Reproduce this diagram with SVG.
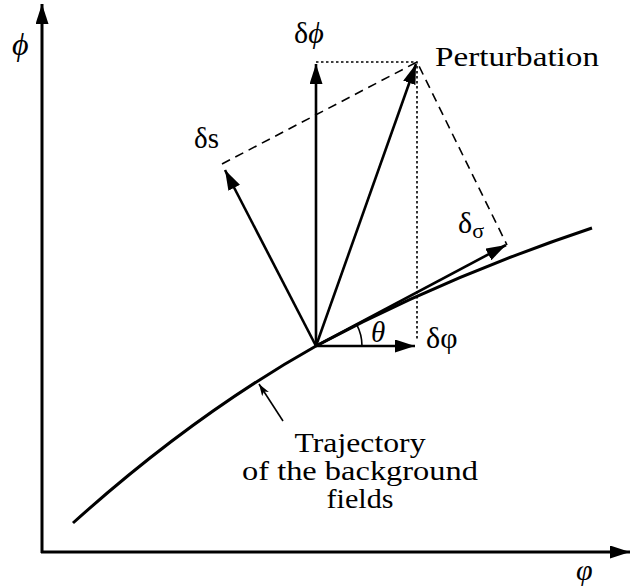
<svg xmlns="http://www.w3.org/2000/svg" width="632" height="588" viewBox="0 0 632 588">
<style>
.ax{stroke:#000;stroke-width:3;fill:none}
.vec{stroke:#000;stroke-width:2.6;fill:none;marker-end:url(#ah)}
.dash{stroke:#000;stroke-width:1.6;fill:none;stroke-dasharray:9,6}
.dot{stroke:#000;stroke-width:1.6;fill:none;stroke-dasharray:2.5,2.5}
.t{font-family:"Liberation Serif","Times New Roman",serif;fill:#000}
.i{font-style:italic}
</style>
<defs>
<marker id="ah" markerUnits="userSpaceOnUse" markerWidth="22" markerHeight="14" refX="20" refY="6.5" orient="auto">
<path d="M0,0 L20,6.5 L0,13 Z" fill="#000"/>
</marker>
<marker id="axh" markerUnits="userSpaceOnUse" markerWidth="22" markerHeight="14" refX="20" refY="6.5" orient="auto">
<path d="M0,0 L20,6.5 L0,13 Z" fill="#000"/>
</marker>
<marker id="sh" markerUnits="userSpaceOnUse" markerWidth="14" markerHeight="10" refX="12" refY="4" orient="auto">
<path d="M0,0 L12,4 L0,8 L3,4 Z" fill="#000"/>
</marker>
</defs>
<g id="axes">
<path class="ax" d="M42,553 L42,4" marker-end="url(#axh)"/>
<path class="ax" d="M41,552 L630,552" marker-end="url(#axh)"/>
<text class="t i" x="12" y="55" font-size="32">ϕ</text>
<text class="t i" x="576" y="580" font-size="30">φ</text>
</g>
<g id="trajectory">
<path class="ax" d="M73,523 C153,451 236,391 316,346 C406,298 502,258 592,228"/>
</g>
<g id="connectors">
<path class="dot" d="M316,62 L417,62 L417,340"/>
<path class="dash" d="M222,164 L417,62 L507,245"/>
<path class="vec" d="M316,346 L316,64"/>
<path class="vec" d="M316,346 L416,64"/>
<path class="vec" d="M316,346 L225,170"/>
<path class="vec" d="M316,346 L506,245"/>
<path class="vec" d="M316,346 L415,346"/>
<path d="M362,346 A46,46 0 0 0 356.6,324.4" stroke="#000" stroke-width="1.6" fill="none"/>
<path d="M283,421 L259,384" stroke="#000" stroke-width="1.6" fill="none" marker-end="url(#sh)"/>
</g>
<g id="labels">
<text class="t" x="294" y="43" font-size="30">δ<tspan class="i">ϕ</tspan></text>
<text class="t" x="435" y="66" font-size="27" textLength="164" lengthAdjust="spacingAndGlyphs">Perturbation</text>
<text class="t" x="194" y="148" font-size="29">δs</text>
<text class="t" x="458" y="233" font-size="30">δ<tspan font-size="22" dy="5">σ</tspan></text>
<text class="t i" x="371" y="342" font-size="29">θ</text>
<text class="t" x="426" y="348" font-size="30">δφ</text>
<text class="t" x="360" y="452" font-size="27" text-anchor="middle" textLength="131" lengthAdjust="spacingAndGlyphs">Trajectory</text>
<text class="t" x="360" y="480" font-size="27" text-anchor="middle" textLength="236" lengthAdjust="spacingAndGlyphs">of the background</text>
<text class="t" x="360" y="508" font-size="27" text-anchor="middle" textLength="67" lengthAdjust="spacingAndGlyphs">fields</text>
</g>
</svg>
